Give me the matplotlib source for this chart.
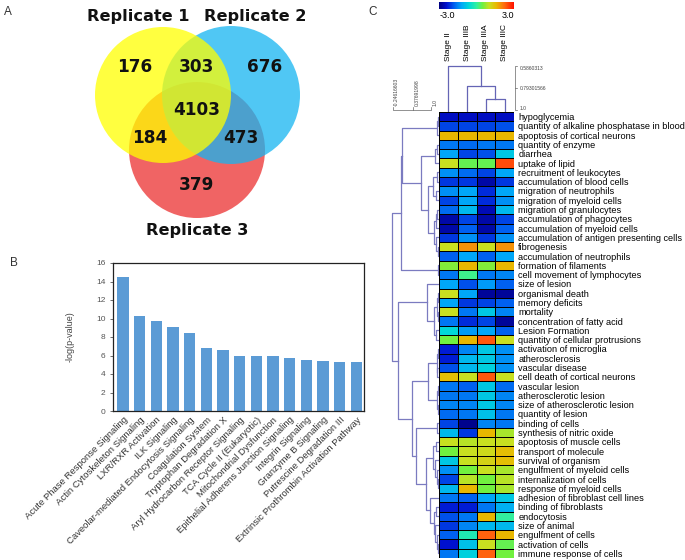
import numpy as np
import matplotlib
matplotlib.use("Agg")
import matplotlib.pyplot as plt
from matplotlib.patches import Circle
from matplotlib.colors import LinearSegmentedColormap

plt.rcParams['font.family'] = ['Liberation Sans', 'DejaVu Sans']

W, H = 685, 560

# ---- data ----
venn_labels = ["Replicate 1", "Replicate 2", "Replicate 3"]
venn_counts = [176, 303, 676, 4103, 184, 473, 379]

pathways = ["Acute Phase Response Signaling", "Actin Cytoskeleton Signaling",
            "LXR/RXR Activation", "ILK Signaling",
            "Caveolar-mediated Endocytosis Signaling", "Coagulation System",
            "Tryptophan Degradation X", "Aryl Hydrocarbon Receptor Signaling",
            "TCA Cycle II (Eukaryotic)", "Mitochondrial Dysfunction",
            "Epithelial Adherens Junction Signaling", "Integrin Signaling",
            "Granzyme B Signaling", "Putrescine Degradation III",
            "Extrinsic Prothrombin Activation Pathway"]
neglogp = [14.5, 10.3, 9.7, 9.1, 8.4, 6.8, 6.6, 6.0, 5.9, 5.9, 5.7, 5.55, 5.4, 5.3, 5.25]

stages = ["Stage II", "Stage IIIB", "Stage IIIA", "Stage IIIC"]
functions = ["hypoglycemia", "quantity of alkaline phosphatase in blood",
             "apoptosis of cortical neurons", "quantity of enzyme", "diarrhea",
             "uptake of lipid", "recruitment of leukocytes",
             "accumulation of blood cells", "migration of neutrophils",
             "migration of myeloid cells", "migration of granulocytes",
             "accumulation of phagocytes", "accumulation of myeloid cells",
             "accumulation of antigen presenting cells", "fibrogenesis",
             "accumulation of neutrophils", "formation of filaments",
             "cell movement of lymphocytes", "size of lesion", "organismal death",
             "memory deficits", "mortality", "concentration of fatty acid",
             "Lesion Formation", "quantity of cellular protrusions",
             "activation of microglia", "atherosclerosis", "vascular disease",
             "cell death of cortical neurons", "vascular lesion",
             "atherosclerotic lesion", "size of atherosclerotic lesion",
             "quantity of lesion", "binding of cells", "synthesis of nitric oxide",
             "apoptosis of muscle cells", "transport of molecule",
             "survival of organism", "engulfment of myeloid cells",
             "internalization of cells", "response of myeloid cells",
             "adhesion of fibroblast cell lines", "binding of fibroblasts",
             "endocytosis", "size of animal", "engulfment of cells",
             "activation of cells", "immune response of cells"]
zscores = [
    [-2.5, -2.5, -2.5, -2.5], [-2.0, -2.0, -2.0, -1.9], [1.6, 1.6, 1.6, 1.6],
    [-1.6, -1.7, -1.6, -1.6], [-1.2, -2.0, -1.9, -0.8], [1.0, 0.4, 0.4, 2.5],
    [-1.4, -1.7, -2.0, -1.2], [-2.1, -2.1, -2.7, -2.1], [-1.4, -1.2, -2.2, -1.2],
    [-2.0, -1.2, -2.2, -1.4], [-1.7, -1.0, -2.6, -1.0], [-2.7, -2.0, -2.7, -2.0],
    [-2.7, -1.8, -2.7, -1.8], [-2.1, -1.4, -2.1, -1.4], [1.0, 1.9, 1.0, 1.9],
    [-1.8, -1.2, -1.8, -1.2], [0.6, 1.6, 0.6, 1.6], [-1.6, 0.1, -1.6, -1.5],
    [-1.2, -1.9, -1.3, -1.8], [1.0, -1.2, -2.8, -2.8], [-1.2, -2.1, -2.0, -1.8],
    [1.0, -1.6, -0.8, -1.5], [-1.6, -2.2, -2.0, -2.8], [-0.6, -1.3, -1.2, -1.8],
    [0.5, 1.6, 2.4, 1.0], [-2.3, -1.5, -0.8, -1.4], [-2.3, -1.0, -0.8, -1.4],
    [-1.9, -1.0, -0.7, -1.4], [1.5, 1.0, 2.4, 1.0], [-1.6, -1.8, -0.8, -1.7],
    [-1.6, -1.6, -0.8, -1.5], [-1.5, -1.5, -0.8, -1.5], [-1.7, -1.6, -0.9, -1.6],
    [-2.0, -2.9, -1.5, -1.6], [-1.0, -2.1, 1.6, 0.8], [1.0, 0.9, 1.0, 1.0],
    [0.5, 1.0, 1.1, 1.5], [-0.8, 1.0, 1.2, 1.5], [-1.4, 0.5, 1.0, 0.8],
    [-2.0, 0.9, 0.5, 0.9], [-1.0, 1.6, 0.5, 0.8], [-1.6, -1.8, -1.2, -0.8],
    [-2.3, -2.3, -1.6, -1.1], [-1.9, -1.6, 1.6, 0.0], [-2.1, -1.5, -1.0, -1.0],
    [-1.8, -0.2, 2.3, 1.6], [-2.4, -0.9, 1.0, 0.4], [-1.6, -0.7, 2.3, 0.5]]

# dendrograms: (merge height, left, right), leaves are row / column indices
row_tree = (47,
            (38,
             (37, (2, (1, 0, 1), 2),
              (18, (4, (2, 3, 4), 5),
               (11, (6, (2, 6, 7), (3, 8, 9)),
                (5, (3, (2, 10, 11), 12), (3, 13, (1, 14, 15)))))),
             (1, 16, 17)),
            (41,
             (12, 18, (5, (2, (1, 19, 20), (1, 21, 22)), (3, 23, 24))),
             (27,
              (11, (2, (1, 25, 26), (1.5, 27, 28)), (2, (1, 29, 30), (1, 31, 32))),
              (23, (2, 33, 34),
               (13, (6, (3, 35, 36), (4, 37, (2, 38, (1, 39, 40)))),
                (9, 41, (5, (3, 42, 43), (4, 44, (2, 45, (1, 46, 47))))))))))
col_tree = (46, 0, (26, 1, (13, 2, 3)))


def px(x0, y0, x1, y1):
    return [x0 / W, 1 - y1 / H, (x1 - x0) / W, (y1 - y0) / H]


def draw_tree(ax, node, horizontal, color):
    if isinstance(node, int):
        return node + 0.5, 0
    h, a, b = node
    pa, ha = draw_tree(ax, a, horizontal, color)
    pb, hb = draw_tree(ax, b, horizontal, color)
    hs = [ha, h, h, hb]
    ps = [pa, pa, pb, pb]
    if horizontal:
        ax.plot(hs, ps, color=color, lw=0.9)
    else:
        ax.plot(ps, hs, color=color, lw=0.9)
    return (pa + pb) / 2, h


fig = plt.figure(figsize=(W / 100, H / 100), dpi=100)

# ---- A: venn ----
axv = fig.add_axes(px(0, 0, 330, 250))
axv.set_xlim(0, 330)
axv.set_ylim(250, 0)
axv.axis('off')
for (cx, cy, r, c) in [(197, 150, 68, '#EB3030'), (231, 95, 69, '#15B5F1'),
                       (163, 95, 68, '#FFFF00')]:
    axv.add_patch(Circle((cx, cy), r, facecolor=c, alpha=0.75,
                         edgecolor='none'))
for (x, y), n in zip([(135, 67), (197, 67), (265, 67), (197, 110),
                      (150, 138), (241, 138), (197, 185)], venn_counts):
    axv.text(x, y, str(n), ha='center', va='center', fontsize=12.2,
             fontweight='bold', family='DejaVu Sans', color='#111111')
for (x, y), t in zip([(138, 17), (255, 17), (197, 230)], venn_labels):
    axv.text(x, y, t, ha='center', va='center', fontsize=11.6,
             fontweight='bold', family='DejaVu Sans', color='#111111')

# ---- B: bar chart ----
axb = fig.add_axes(px(113, 263, 364, 411))
xb = np.arange(len(pathways))
axb.bar(xb, neglogp, width=0.68, color='#5B9BD5')
axb.set_xlim(-0.6, 14.45)
axb.set_ylim(0, 16)
axb.set_yticks(range(0, 17, 2))
axb.tick_params(axis='y', labelsize=6, colors='#555555', length=2, width=0.6)
axb.tick_params(axis='x', length=0, pad=3)
axb.set_xticks(xb)
axb.set_xticklabels(pathways, rotation=45, ha='right', rotation_mode='anchor',
                    fontsize=6.8, color='#333333')
axb.set_ylabel('-log(p-value)', fontsize=6.5, color='#444444', labelpad=15)
for s in axb.spines.values():
    s.set_linewidth(0.9)
    s.set_color('#222222')

# ---- C: heatmap ----
cmap = LinearSegmentedColormap.from_list('ipa', [
    (0.0, '#000080'), (0.1, '#0010D0'), (0.2, '#0060F0'), (0.3, '#00A8F8'),
    (0.4, '#00D8D8'), (0.5, '#30F0A0'), (0.583, '#70F040'), (0.667, '#C8E020'),
    (0.767, '#E8B800'), (0.867, '#FF7010'), (1.0, '#FF1000')])

axh = fig.add_axes(px(439, 112, 514, 558))
Z = np.array(zscores)
mesh = axh.pcolormesh(Z, cmap=cmap, vmin=-3, vmax=3, edgecolors='black',
                      linewidth=0.6)
axh.set_xlim(0, 4)
axh.set_ylim(len(functions), 0)
axh.yaxis.tick_right()
axh.set_yticks(np.arange(len(functions)) + 0.5)
axh.set_yticklabels(functions, fontsize=6.55, color='black')
axh.tick_params(axis='y', length=0, pad=3)
axh.set_xticks([])
for s in axh.spines.values():
    s.set_visible(False)

# row dendrogram
axr = fig.add_axes(px(388, 112, 439, 558))
draw_tree(axr, row_tree, True, '#7B7BC0')
axr.set_xlim(51, 0)
axr.set_ylim(len(functions), 0)
axr.axis('off')

# column dendrogram
axc = fig.add_axes(px(439, 64, 514, 112))
draw_tree(axc, col_tree, False, '#6565B5')
axc.set_xlim(0, 4)
axc.set_ylim(0, 48)
axc.xaxis.tick_top()
axc.set_xticks(np.arange(4) + 0.5)
axc.set_xticklabels(stages, rotation=90, fontsize=6.0, va='bottom')
axc.tick_params(axis='x', length=0, pad=2)
axc.set_yticks([])
for s in axc.spines.values():
    s.set_visible(False)

# colour bar
cax = fig.add_axes(px(439, 2, 514, 9))
cb = fig.colorbar(mesh, cax=cax, orientation='horizontal')
cb.set_ticks([])
cb.outline.set_visible(False)

# ---- overlay: panel letters and scale marks ----
ov = fig.add_axes([0, 0, 1, 1])
ov.set_xlim(0, W)
ov.set_ylim(H, 0)
ov.axis('off')
for x, y, t in [(8, 12, 'A'), (14, 263, 'B'), (373, 12, 'C')]:
    ov.text(x, y, t, fontsize=8.5, ha='center', va='center', color='#333333')
ov.text(447, 16, '-3.0', fontsize=6.5, ha='center', va='center')
ov.text(508, 16, '3.0', fontsize=6.5, ha='center', va='center')

sc = '#666666'
ov.plot([517, 515, 515, 517], [66, 66, 110, 110], color=sc, lw=0.5)
ov.plot([515, 517], [88, 88], color=sc, lw=0.5)
for y, t in [(69, '0.5860313'), (89, '0.79301566'), (109, '1.0')]:
    ov.text(520, y, t, fontsize=3.6, va='center', ha='left', color='#444444')
ov.plot([393, 393, 431, 431], [107, 110, 110, 107], color=sc, lw=0.5)
ov.plot([413, 413], [110, 107], color=sc, lw=0.5)
for x, t in [(396, '-0.24616603'), (417, '0.37691998'), (435, '1.0')]:
    ov.text(x, 106, t, fontsize=3.6, rotation=90, ha='center', va='bottom',
            color='#444444')

fig.savefig('out.png', dpi=100)
